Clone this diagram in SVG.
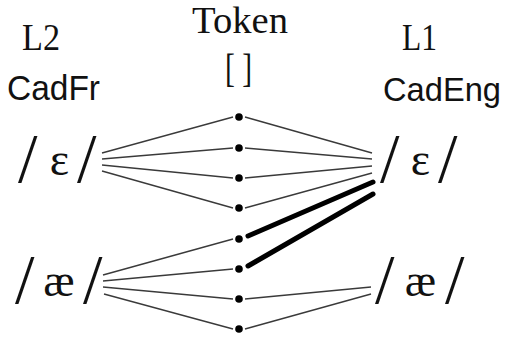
<svg xmlns="http://www.w3.org/2000/svg" width="506" height="338" viewBox="0 0 506 338">
<style>
.serif{font-family:"Liberation Serif","Times New Roman","DejaVu Serif",serif;fill:#111}
.sans{font-family:"Liberation Sans",Arial,sans-serif;fill:#111}
.thin{stroke:#3a3a3a;stroke-width:1.3;fill:none}
.thick{stroke:#000;stroke-width:5;fill:none;stroke-linecap:round}
.dot{fill:#000}
.sl{font-size:70px}
</style>
<rect width="506" height="338" fill="#fff"/>
<g id="connectors">
<line class="thin" x1="102" y1="153" x2="233" y2="117"/>
<line class="thin" x1="102" y1="159" x2="233" y2="148"/>
<line class="thin" x1="102" y1="165" x2="233" y2="178"/>
<line class="thin" x1="102" y1="171" x2="233" y2="208"/>
<line class="thin" x1="103" y1="275" x2="233" y2="239"/>
<line class="thin" x1="103" y1="281" x2="233" y2="269"/>
<line class="thin" x1="103" y1="287" x2="233" y2="299"/>
<line class="thin" x1="104" y1="294" x2="233" y2="329"/>
<line class="thin" x1="245" y1="117" x2="372" y2="153"/>
<line class="thin" x1="245" y1="148" x2="372" y2="159"/>
<line class="thin" x1="245" y1="178" x2="372" y2="166"/>
<line class="thin" x1="245" y1="208" x2="372" y2="173"/>
<line class="thick" x1="248" y1="236" x2="373" y2="182"/>
<line class="thick" x1="248" y1="266" x2="373" y2="194"/>
<line class="thin" x1="245" y1="299" x2="371" y2="287"/>
<line class="thin" x1="245" y1="329" x2="371" y2="294"/>
</g>
<g id="headers">
<text class="serif" x="22" y="50" font-size="37" textLength="38" lengthAdjust="spacingAndGlyphs">L2</text>
<text class="sans" x="7" y="100" font-size="35" textLength="93" lengthAdjust="spacingAndGlyphs">CadFr</text>
<text class="serif" x="192" y="33" font-size="38" textLength="96" lengthAdjust="spacingAndGlyphs">Token</text>
<text class="serif" x="225" y="82" font-size="40" textLength="27" lengthAdjust="spacingAndGlyphs">[ ]</text>
<text class="serif" x="402" y="50" font-size="37" textLength="35" lengthAdjust="spacingAndGlyphs">L1</text>
<text class="sans" x="383" y="101" font-size="34" textLength="118" lengthAdjust="spacingAndGlyphs">CadEng</text>
</g>
<g id="tokens">
<circle class="dot" cx="239" cy="117" r="3.8"/>
<circle class="dot" cx="239" cy="148" r="3.8"/>
<circle class="dot" cx="239" cy="178" r="3.8"/>
<circle class="dot" cx="239" cy="208" r="3.8"/>
<circle class="dot" cx="239" cy="239" r="3.8"/>
<circle class="dot" cx="239" cy="269" r="3.8"/>
<circle class="dot" cx="239" cy="299" r="3.8"/>
<circle class="dot" cx="239" cy="329" r="3.8"/>
</g>
<g id="L2-e">
<text class="serif"><tspan class="sl" x="18" y="182">/</tspan><tspan x="59.5" y="175" font-size="46" text-anchor="middle">ɛ</tspan><tspan class="sl" x="77" y="182">/</tspan></text>
</g>
<g id="L2-ae">
<text class="serif"><tspan class="sl" x="15" y="303">/</tspan><tspan x="59" y="296" font-size="47" text-anchor="middle">æ</tspan><tspan class="sl" x="83" y="303">/</tspan></text>
</g>
<g id="L1-e">
<text class="serif"><tspan class="sl" x="380" y="182">/</tspan><tspan x="420.5" y="175" font-size="46" text-anchor="middle">ɛ</tspan><tspan class="sl" x="438" y="182">/</tspan></text>
</g>
<g id="L1-ae">
<text class="serif"><tspan class="sl" x="375" y="303">/</tspan><tspan x="420.5" y="296" font-size="47" text-anchor="middle">æ</tspan><tspan class="sl" x="445" y="303">/</tspan></text>
</g>
</svg>
